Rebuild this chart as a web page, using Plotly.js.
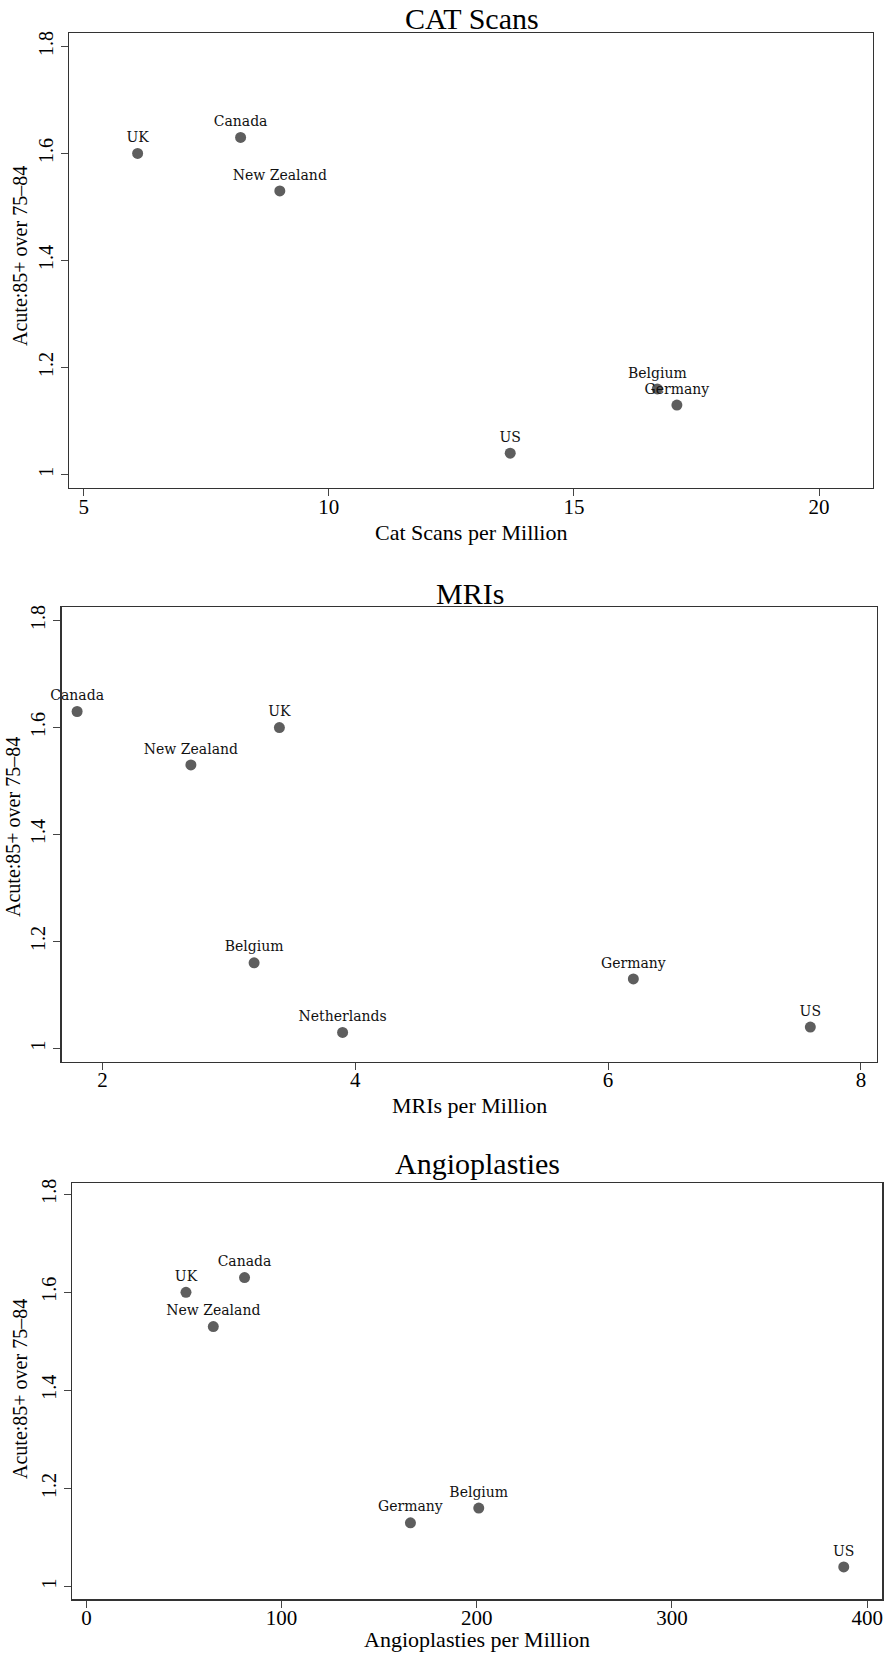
<!DOCTYPE html>
<html>
<head>
<meta charset="utf-8">
<script src="https://cdn.plot.ly/plotly-3.0.1.min.js"></script>
<style>html,body{margin:0;padding:0;background:#fff;}#chart{width:887px;height:1653px;}</style>
</head>
<body>
<div id="chart"></div>
<script>
// ---- Data ----
var catCountries = ["UK", "Canada", "New Zealand", "US", "Belgium", "Germany"];
var catScans     = [6.1, 8.2, 9.0, 13.7, 16.7, 17.1];
var catAcute     = [1.60, 1.63, 1.53, 1.04, 1.16, 1.13];

var mriCountries = ["Canada", "UK", "New Zealand", "Belgium", "Netherlands", "Germany", "US"];
var mris         = [1.8, 3.4, 2.7, 3.2, 3.9, 6.2, 7.6];
var mriAcute     = [1.63, 1.60, 1.53, 1.16, 1.03, 1.13, 1.04];

var angCountries = ["UK", "Canada", "New Zealand", "Germany", "Belgium", "US"];
var angios       = [51, 81, 65, 166, 201, 388];
var angAcute     = [1.60, 1.63, 1.53, 1.13, 1.16, 1.04];

var panelTitles  = ["CAT Scans", "MRIs", "Angioplasties"];
var xTitles      = ["Cat Scans per Million", "MRIs per Million", "Angioplasties per Million"];
var yTitle       = "Acute:85+ over 75\u201384";
var xTicks1 = [5, 10, 15, 20];
var xTicks2 = [2, 4, 6, 8];
var xTicks3 = [0, 100, 200, 300, 400];
var yTicks  = [1, 1.2, 1.4, 1.6, 1.8];
var yTickText = ["1", "1.2", "1.4", "1.6", "1.8"];

// ---- Styling ----
var W = 887, H = 1653;
function px(v){ return v / W; }
function py(v){ return 1 - v / H; }
var serif = "'Liberation Serif', 'Times New Roman', serif";
var markerStyle = {size: 11, color: "#5e5e5e"};
var labelFont = {family: "'DejaVu Serif', serif", size: 14, color: "#111"};

function trace(x, y, t, xa, ya){
  return {x: x, y: y, text: t, type: "scatter", mode: "markers+text",
    textposition: "top center", textfont: labelFont, marker: markerStyle,
    xaxis: xa, yaxis: ya, hoverinfo: "skip", cliponaxis: false};
}
var data = [
  trace(catScans, catAcute, catCountries, "x", "y"),
  trace(mris, mriAcute, mriCountries, "x2", "y2"),
  trace(angios, angAcute, angCountries, "x3", "y3")
];

function xaxis(dom, range, ticks, anchor){
  return {domain: dom, range: range, tickvals: ticks, anchor: anchor,
    showline: true, mirror: true, linecolor: "#333", linewidth: 1.3,
    ticks: "outside", ticklen: 7, tickcolor: "#444", tickwidth: 1,
    showgrid: false, zeroline: false, automargin: false,
    tickfont: {family: serif, size: 21, color: "#000"}, ticklabelstandoff: -8};
}
function yaxis(dom, range, anchor){
  return {domain: dom, range: range, tickvals: yTicks, ticktext: yTickText, anchor: anchor,
    showline: true, mirror: true, linecolor: "#333", linewidth: 1.3,
    ticks: "outside", ticklen: 7, tickcolor: "#444", tickwidth: 1,
    showgrid: false, zeroline: false, automargin: false, tickangle: -90,
    tickfont: {family: serif, size: 20, color: "#000"}, ticklabelstandoff: 0};
}

function ann(text, x, y, size, angle){
  return {text: text, xref: "paper", yref: "paper", x: px(x), y: py(y),
    xanchor: "center", yanchor: "middle", showarrow: false, textangle: angle || 0,
    font: {family: serif, size: size, color: "#000"}};
}

var layout = {
  width: W, height: H,
  margin: {l: 0, r: 0, t: 0, b: 0},
  paper_bgcolor: "#fff", plot_bgcolor: "#fff",
  showlegend: false,
  xaxis:  xaxis([px(69), px(873)], [4.7, 21.1], xTicks1, "y"),
  yaxis:  yaxis([py(488), py(33)], [0.975, 1.825], "x"),
  xaxis2: xaxis([px(61.7), px(876.7)], [1.678, 8.125], xTicks2, "y2"),
  yaxis2: yaxis([py(1061.8), py(607.2)], [0.975, 1.825], "x2"),
  xaxis3: xaxis([px(71.8), px(882.4)], [-7.5, 407.8], xTicks3, "y3"),
  yaxis3: yaxis([py(1599.3), py(1182.9)], [0.974, 1.823], "x3"),
  annotations: [
    ann(panelTitles[0], 472, 19, 30),
    ann(panelTitles[1], 469.5, 593, 30),
    ann(panelTitles[2], 477, 1163, 30),
    ann(xTitles[0], 471, 532, 22),
    ann(xTitles[1], 469.5, 1105, 22),
    ann(xTitles[2], 477, 1639, 22),
    ann(yTitle, 20, 256, 20, -90),
    ann(yTitle, 13, 827, 20, -90),
    ann(yTitle, 20, 1389, 20, -90)
  ]
};

Plotly.newPlot("chart", data, layout, {staticPlot: true, displayModeBar: false});
</script>
</body>
</html>
